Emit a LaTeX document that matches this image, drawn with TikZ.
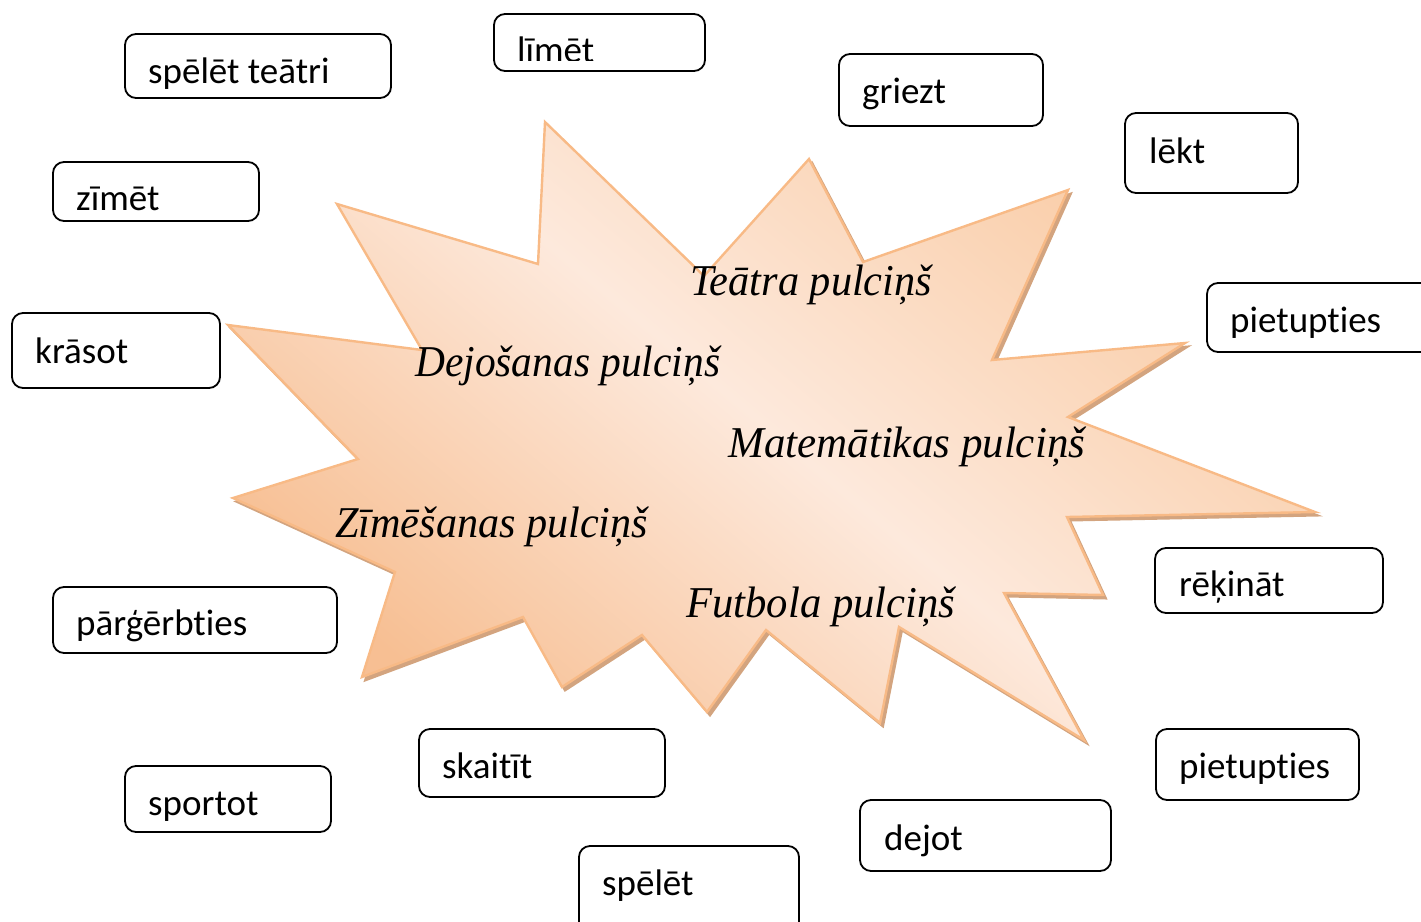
\documentclass[tikz,border=0pt]{standalone}
\usepackage{fontspec}
\usepackage{graphicx}
\newfontfamily\boxfont[Ligatures={NoCommon}]{Carlito}
\newfontfamily\clubfont{Liberation Serif}
\definecolor{staredge}{HTML}{F8BA86}
\definecolor{starshadow}{HTML}{D3A47F}
\definecolor{startop}{HTML}{F9CCA6}
\definecolor{starmid}{HTML}{FDE9DC}
\definecolor{starbot}{HTML}{F7BF93}
\newcommand{\club}[2]{\resizebox{#1pt}{\height}{\clubfont\fontsize{44}{52}\selectfont\itshape #2}}
\begin{document}
\begin{tikzpicture}[x=1pt,y=-1pt,
  wbox/.style={draw=black, line width=1.8pt, rounded corners=11pt, fill=white},
  wtext/.style={font=\boxfont\fontsize{37}{44}\selectfont, anchor=base west, inner sep=0pt},
  ctext/.style={anchor=base west, inner sep=0pt},
  starfill/.style={draw=staredge, line width=2.4pt, line join=miter,
     shading=axis, top color=startop, bottom color=starbot, middle color=starmid, shading angle=-40},
  starshad/.style={fill=starshadow, draw=starshadow, line width=2pt}]
\useasboundingbox (0,0) rectangle (1421,921);

% shadow of the star
\begin{scope}[shift={(3,3.5)}]
\path[starshad] (337,204) -- (538,264) -- (545,122) -- (704,276) -- (809,159) -- (863,262)
 -- (1068,190) -- (992,360) -- (1185,343) -- (1068,417) -- (1315,512) -- (1067,517)
 -- (1103,595) -- (1004,593) -- (1084,740) -- (899,627) -- (880,723) -- (766,630)
 -- (707,712) -- (642,635) -- (562,687) -- (523,617) -- (362,677) -- (395,572)
 -- (233,498) -- (358,459) -- (228,325) -- (422,350) -- cycle;
\end{scope}
% the star
\path[starfill] (337,204) -- (538,264) -- (545,122) -- (704,276) -- (809,159) -- (863,262)
 -- (1068,190) -- (992,360) -- (1185,343) -- (1068,417) -- (1315,512) -- (1067,517)
 -- (1103,595) -- (1004,593) -- (1084,740) -- (899,627) -- (880,723) -- (766,630)
 -- (707,712) -- (642,635) -- (562,687) -- (523,617) -- (362,677) -- (395,572)
 -- (233,498) -- (358,459) -- (228,325) -- (422,350) -- cycle;

% club names
\node[ctext] (c1) at (690,295) {\club{242}{Teātra pulciņš}};
\node[ctext] (c2) at (415,376) {\club{305}{Dejošanas pulciņš}};
\node[ctext] (c3) at (728,457) {\club{357}{Matemātikas pulciņš}};
\node[ctext] (c4) at (335,537) {\club{313}{Zīmēšanas pulciņš}};
\node[ctext] (c5) at (686,617) {\club{269}{Futbola pulciņš}};

% word boxes
\path[wbox] (125,34) rectangle (391,98);   \node[wtext] (t1) at (148,83) {spēlēt teātri};
\path[wbox] (494,14) rectangle (705,71);
\begin{scope}
  \clip (494,14) rectangle (705,60);
  \node[wtext] (t2) at (517,62) {līmēt};
\end{scope}
\path[wbox] (839,54) rectangle (1043,126); \node[wtext] (t3) at (862,103) {griezt};
\path[wbox] (1125,113) rectangle (1298,193); \node[wtext] (t4) at (1149,163) {lēkt};
\path[wbox] (53,162) rectangle (259,221);  \node[wtext] (t5) at (76,210) {zīmēt};
\path[wbox] (12,313) rectangle (220,388);  \node[wtext] (t6) at (35,363) {krāsot};
\path[wbox] (1207,283) rectangle (1440,352); \node[wtext] (t7) at (1230,332) {pietupties};
\path[wbox] (1155,548) rectangle (1383,613); \node[wtext] (t8) at (1179,596) {rēķināt};
\path[wbox] (53,587) rectangle (337,653);
\begin{scope}
  \clip (53,587) rectangle (337,641);
  \node[wtext] (t9) at (76,635) {pārģērbties};
\end{scope}
\path[wbox] (1156,729) rectangle (1359,800); \node[wtext] (t10) at (1179,778) {pietupties};
\path[wbox] (419,729) rectangle (665,797); \node[wtext] (t11) at (442,778) {skaitīt};
\path[wbox] (125,766) rectangle (331,832); \node[wtext] (t12) at (148,815) {sportot};
\path[wbox] (860,800) rectangle (1111,871); \node[wtext] (t13) at (884,850) {dejot};
\path[wbox] (579,846) rectangle (799,940); \node[wtext] (t14) at (602,895) {spēlēt};
\end{tikzpicture}
\end{document}
